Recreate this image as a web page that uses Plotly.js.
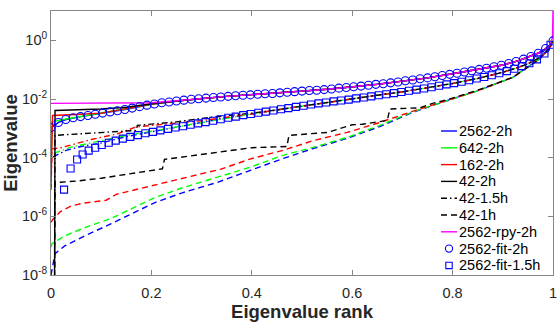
<!DOCTYPE html>
<html>
<head>
<meta charset="utf-8">
<script src="https://cdn.plot.ly/plotly-3.0.1.min.js"></script>
<style>
  html, body { margin: 0; padding: 0; background: #fff; }
  #chart { width: 560px; height: 329px; }
</style>
</head>
<body>
<div id="chart"></div>
<script>
// Eigenvalue spectra, values stored as log10(eigenvalue) against normalised rank.

// ---- 2h spacing (upper band) ----
const rank2562_2h = [0, 0.001, 0.015, 0.03, 0.06, 0.1, 0.15, 0.2, 0.25, 0.3, 0.35, 0.4, 0.45, 0.5, 0.55, 0.6, 0.65, 0.7, 0.75, 0.8, 0.85, 0.9, 0.93, 0.95, 0.97, 0.98, 0.99, 0.995, 1];
const log2562_2h  = [-3.3, -2.97, -2.80, -2.70, -2.60, -2.49, -2.35, -2.18, -2.07, -1.98, -1.91, -1.85, -1.80, -1.73, -1.67, -1.59, -1.50, -1.39, -1.28, -1.14, -1.00, -0.84, -0.70, -0.58, -0.44, -0.36, -0.24, -0.15, 0];

const rank642_2h = [0, 0.002, 0.03, 0.06, 0.1, 0.15, 0.2, 0.25, 0.3, 0.35, 0.4, 0.45, 0.5, 0.55, 0.6, 0.65, 0.7, 0.75, 0.8, 0.85, 0.9, 0.93, 0.95, 0.97, 0.98, 0.99, 0.995, 1];
const log642_2h  = [-4.5, -2.78, -2.68, -2.59, -2.48, -2.34, -2.18, -2.07, -1.98, -1.91, -1.85, -1.80, -1.73, -1.67, -1.59, -1.50, -1.39, -1.28, -1.14, -1.00, -0.84, -0.70, -0.58, -0.44, -0.36, -0.24, -0.15, 0];

const rank162_2h = [0, 0.003, 0.05, 0.1, 0.15, 0.2, 0.25, 0.3, 0.35, 0.4, 0.45, 0.5, 0.55, 0.6, 0.65, 0.7, 0.75, 0.8, 0.85, 0.9, 0.93, 0.95, 0.97, 0.98, 0.99, 0.995, 1];
const log162_2h  = [-5.0, -2.56, -2.53, -2.48, -2.33, -2.17, -2.07, -1.98, -1.91, -1.85, -1.80, -1.73, -1.67, -1.59, -1.50, -1.39, -1.28, -1.14, -1.00, -0.84, -0.70, -0.58, -0.44, -0.36, -0.24, -0.15, 0];

const rank42_2h = [0, 0.007, 0.008, 0.06, 0.1, 0.15, 0.2, 0.25, 0.3, 0.35, 0.4, 0.45, 0.5, 0.55, 0.6, 0.65, 0.7, 0.75, 0.8, 0.85, 0.9, 0.93, 0.95, 0.97, 0.98, 0.99, 0.995, 1];
const log42_2h  = [-9, -9, -2.39, -2.37, -2.34, -2.28, -2.16, -2.07, -1.98, -1.91, -1.85, -1.80, -1.73, -1.67, -1.59, -1.50, -1.39, -1.28, -1.14, -1.00, -0.84, -0.70, -0.58, -0.44, -0.36, -0.24, -0.15, 0];

const rankRpy_2h = [0, 0.1, 0.2, 0.25, 0.3, 0.35, 0.4, 0.45, 0.5, 0.55, 0.6, 0.65, 0.7, 0.75, 0.8, 0.85, 0.9, 0.93, 0.95, 0.97, 0.98, 0.99, 0.995, 0.999, 1];
const logRpy_2h  = [-2.15, -2.14, -2.13, -2.06, -1.98, -1.91, -1.85, -1.80, -1.73, -1.67, -1.59, -1.50, -1.39, -1.28, -1.14, -1.00, -0.84, -0.70, -0.58, -0.44, -0.36, -0.24, -0.12, 0.1, 1.0];

// ---- 1.5h spacing (middle band) ----
const rank2562_15h = [0, 0.001, 0.03, 0.06, 0.1, 0.15, 0.2, 0.25, 0.3, 0.35, 0.4, 0.45, 0.5, 0.55, 0.6, 0.65, 0.7, 0.75, 0.8, 0.85, 0.9, 0.93, 0.95, 0.97, 0.98, 0.99, 0.995, 1];
const log2562_15h  = [-4.4, -4.0, -3.75, -3.62, -3.50, -3.28, -3.12, -2.96, -2.80, -2.64, -2.51, -2.37, -2.24, -2.12, -2.00, -1.87, -1.76, -1.62, -1.47, -1.30, -1.09, -0.93, -0.80, -0.62, -0.50, -0.33, -0.20, 0];

const rank642_15h = [0, 0.001, 0.04, 0.1, 0.15, 0.2, 0.25, 0.3, 0.35, 0.4, 0.45, 0.5, 0.55, 0.6, 0.65, 0.7, 0.75, 0.8, 0.85, 0.9, 0.93, 0.95, 0.97, 0.98, 0.99, 0.995, 1];
const log642_15h  = [-4.7, -3.88, -3.64, -3.42, -3.24, -3.10, -2.95, -2.80, -2.64, -2.51, -2.37, -2.24, -2.12, -2.00, -1.87, -1.76, -1.62, -1.47, -1.30, -1.09, -0.93, -0.80, -0.62, -0.50, -0.33, -0.20, 0];

const rank162_15h = [0, 0.002, 0.02, 0.08, 0.13, 0.17, 0.25, 0.3, 0.35, 0.4, 0.45, 0.5, 0.55, 0.6, 0.65, 0.7, 0.75, 0.8, 0.85, 0.9, 0.93, 0.95, 0.97, 0.98, 0.99, 0.995, 1];
const log162_15h  = [-5.1, -3.70, -3.66, -3.38, -3.20, -2.95, -2.82, -2.74, -2.62, -2.51, -2.37, -2.24, -2.12, -2.00, -1.87, -1.76, -1.62, -1.47, -1.30, -1.09, -0.93, -0.80, -0.62, -0.50, -0.33, -0.20, 0];

const rank42_15h = [0, 0.007, 0.008, 0.09, 0.17, 0.172, 0.25, 0.3, 0.35, 0.4, 0.45, 0.5, 0.55, 0.6, 0.65, 0.7, 0.75, 0.8, 0.85, 0.9, 0.93, 0.95, 0.97, 0.98, 0.99, 0.995, 1];
const log42_15h  = [-9, -9, -3.24, -3.16, -3.07, -2.90, -2.78, -2.66, -2.58, -2.48, -2.37, -2.24, -2.12, -2.00, -1.87, -1.76, -1.62, -1.47, -1.30, -1.09, -0.93, -0.80, -0.62, -0.50, -0.33, -0.20, 0];

// ---- 1h spacing (lower band) ----
const rank2562_1h = [0, 0.008, 0.028, 0.068, 0.12, 0.173, 0.207, 0.263, 0.33, 0.396, 0.462, 0.522, 0.59, 0.655, 0.72, 0.79, 0.85, 0.92, 0.96, 0.975, 0.99, 1];
const log2562_1h  = [-8.0, -7.27, -7.00, -6.66, -6.25, -5.80, -5.53, -5.19, -4.85, -4.44, -4.03, -3.69, -3.34, -2.94, -2.46, -2.05, -1.72, -1.26, -0.80, -0.61, -0.30, 0];

const rank642_1h = [0, 0.002, 0.028, 0.068, 0.12, 0.173, 0.207, 0.263, 0.33, 0.396, 0.462, 0.522, 0.59, 0.655, 0.72, 0.79, 0.85, 0.92, 0.96, 0.975, 0.99, 1];
const log642_1h  = [-7.05, -6.93, -6.66, -6.38, -6.07, -5.63, -5.36, -5.02, -4.68, -4.33, -3.92, -3.65, -3.31, -2.90, -2.44, -2.05, -1.72, -1.26, -0.80, -0.61, -0.30, 0];

const rank162_1h = [0, 0.004, 0.018, 0.04, 0.064, 0.11, 0.13, 0.177, 0.243, 0.297, 0.337, 0.396, 0.462, 0.522, 0.59, 0.655, 0.72, 0.79, 0.85, 0.92, 0.96, 0.975, 0.99, 1];
const log162_1h  = [-6.2, -6.10, -5.85, -5.65, -5.55, -5.45, -5.25, -5.05, -4.78, -4.56, -4.40, -4.05, -3.75, -3.42, -3.14, -2.80, -2.42, -2.05, -1.72, -1.26, -0.80, -0.61, -0.30, 0];

const rank42_1h = [0, 0.007, 0.008, 0.05, 0.1, 0.2, 0.222, 0.226, 0.3, 0.33, 0.4, 0.47, 0.474, 0.55, 0.575, 0.6, 0.62, 0.67, 0.675, 0.735, 0.76, 0.79, 0.85, 0.92, 0.96, 0.975, 0.99, 1];
const log42_1h  = [-9, -9, -4.85, -4.80, -4.70, -4.45, -4.38, -4.06, -3.90, -3.82, -3.66, -3.62, -3.24, -3.14, -3.00, -2.88, -2.86, -2.73, -2.34, -2.30, -2.15, -2.02, -1.70, -1.26, -0.80, -0.61, -0.30, 0];

// ---- fitted spectra (markers) ----
const rankFit2h = [0, .0147, .0294, .0441, .0588, .0735, .0882, .1029, .1176, .1324, .1471, .1618, .1765, .1912, .2059, .2206, .2353, .25, .2647, .2794, .2941, .3088, .3235, .3382, .3529, .3676, .3824, .3971, .4118, .4265, .4412, .4559, .4706, .4853, .5, .5147, .5294, .5441, .5588, .5735, .5882, .6029, .6176, .6324, .6471, .6618, .6765, .6912, .7059, .7206, .7353, .75, .7647, .7794, .7941, .8088, .8235, .8382, .8529, .8676, .8824, .8971, .9118, .9265, .9412, .9559, .9706, .9853, 1.0];
const logFit2h  = [-2.97, -2.80, -2.70, -2.64, -2.60, -2.56, -2.52, -2.48, -2.44, -2.40, -2.36, -2.31, -2.26, -2.21, -2.17, -2.13, -2.10, -2.07, -2.04, -2.01, -1.99, -1.97, -1.95, -1.93, -1.91, -1.89, -1.87, -1.86, -1.84, -1.82, -1.81, -1.79, -1.77, -1.75, -1.73, -1.71, -1.70, -1.68, -1.66, -1.63, -1.61, -1.58, -1.56, -1.53, -1.50, -1.48, -1.45, -1.42, -1.38, -1.35, -1.31, -1.28, -1.24, -1.20, -1.16, -1.12, -1.08, -1.04, -0.99, -0.95, -0.90, -0.85, -0.79, -0.72, -0.64, -0.55, -0.44, -0.28, -0.02];

const rankFit15h = [0.026, 0.039, 0.052, 0.063, 0.075, 0.088, 0.101, 0.115, 0.129, 0.143, 0.158, 0.173, 0.188, 0.203, 0.218, 0.233, 0.248, 0.263, 0.278, 0.293, 0.308, 0.323, 0.338, 0.353, 0.368, 0.383, 0.398, 0.413, 0.428, 0.443, 0.458, 0.473, 0.488, 0.503, 0.518, 0.533, 0.548, 0.563, 0.578, 0.593, 0.608, 0.623, 0.638, 0.653, 0.668, 0.683, 0.698, 0.713, 0.728, 0.743, 0.758, 0.773, 0.788, 0.803, 0.818, 0.833, 0.848, 0.863, 0.878, 0.893, 0.908, 0.923, 0.938, 0.953, 0.968, 0.983, 0.995];
const logFit15h  = [-5.09, -4.37, -4.06, -3.89, -3.76, -3.66, -3.57, -3.49, -3.42, -3.35, -3.29, -3.23, -3.17, -3.12, -3.07, -3.02, -2.97, -2.93, -2.88, -2.83, -2.79, -2.74, -2.69, -2.64, -2.60, -2.55, -2.51, -2.47, -2.43, -2.39, -2.35, -2.31, -2.27, -2.23, -2.19, -2.15, -2.12, -2.08, -2.05, -2.02, -1.98, -1.95, -1.91, -1.87, -1.84, -1.80, -1.76, -1.72, -1.68, -1.64, -1.60, -1.55, -1.50, -1.46, -1.41, -1.36, -1.30, -1.25, -1.19, -1.12, -1.05, -0.97, -0.88, -0.78, -0.65, -0.45, -0.15];

// Axis tick labels
const yTickExp = [-8, -6, -4, -2, 0];
const xTickVals = [0, 0.2, 0.4, 0.6, 0.8, 1];
const xTickText = ['0', '0.2', '0.4', '0.6', '0.8', '1'];

// Legend entries, top to bottom
const legendNames = ['2562-2h', '642-2h', '162-2h', '42-2h', '42-1.5h', '42-1h', '2562-rpy-2h', '2562-fit-2h', '2562-fit-1.5h'];

const BLUE = '#0000ff', GREEN = '#00ff00', RED = '#ff0000', BLACK = '#000000', MAGENTA = '#ff00ff';
const DASH = '6px,4px';
const DASHDOT = '6px,3px,1.5px,3px';
const LINE_W = 1.4;
const toVal = arr => arr.map(p => Math.pow(10, p));

function line(name, xs, logs, color, dash) {
  return {
    type: 'scatter', mode: 'lines', name: name,
    x: xs, y: toVal(logs),
    line: { color: color, width: LINE_W, dash: dash },
    showlegend: false
  };
}

const traces = [
  line('2562-1h', rank2562_1h, log2562_1h, BLUE, DASH),
  line('642-1h', rank642_1h, log642_1h, GREEN, DASH),
  line('162-1h', rank162_1h, log162_1h, RED, DASH),
  line('42-1h', rank42_1h, log42_1h, BLACK, DASH),
  line('2562-1.5h', rank2562_15h, log2562_15h, BLUE, DASHDOT),
  line('642-1.5h', rank642_15h, log642_15h, GREEN, DASHDOT),
  line('162-1.5h', rank162_15h, log162_15h, RED, DASHDOT),
  line('42-1.5h', rank42_15h, log42_15h, BLACK, DASHDOT),
  line('2562-2h', rank2562_2h, log2562_2h, BLUE, 'solid'),
  line('642-2h', rank642_2h, log642_2h, GREEN, 'solid'),
  line('162-2h', rank162_2h, log162_2h, RED, 'solid'),
  line('42-2h', rank42_2h, log42_2h, BLACK, 'solid'),
  line('2562-rpy-2h', rankRpy_2h, logRpy_2h, MAGENTA, 'solid'),
  {
    type: 'scatter', mode: 'markers', name: '2562-fit-2h',
    x: rankFit2h, y: toVal(logFit2h),
    marker: { symbol: 'circle-open', size: 8, color: BLUE, line: { width: 1.1, color: BLUE } },
    showlegend: false
  },
  {
    type: 'scatter', mode: 'markers', name: '2562-fit-1.5h',
    x: rankFit15h, y: toVal(logFit15h),
    marker: { symbol: 'square-open', size: 7, color: BLUE, line: { width: 1.1, color: BLUE } },
    showlegend: false
  }
];

// Compact legend in the lower-right corner of the axes, built from the traces above.
const W = 560, H = 329;
const M = { l: 51, r: 7, t: 11, b: 54 };
const plotW = W - M.l - M.r, plotH = H - M.t - M.b;
const px2x = px => (px - M.l) / plotW;
const py2y = py => (H - M.b - py) / plotH;

const shapes = [];
const annotations = [];
legendNames.forEach((name, i) => {
  const tr = traces.find(t => t.name === name);
  const yc = py2y(131 + i * 16.8);
  annotations.push({
    xref: 'paper', yref: 'paper', x: px2x(457), y: yc,
    xanchor: 'left', yanchor: 'middle', showarrow: false,
    text: name, font: { size: 14.5, color: '#000000' }
  });
  if (tr.mode === 'lines') {
    shapes.push({
      type: 'line', xref: 'paper', yref: 'paper',
      x0: px2x(441), x1: px2x(457), y0: yc, y1: yc,
      line: { color: tr.line.color, width: LINE_W, dash: tr.line.dash }
    });
  } else {
    const r = tr.marker.symbol === 'circle-open' ? 3.6 : 3.2;
    shapes.push({
      type: tr.marker.symbol === 'circle-open' ? 'circle' : 'rect',
      xref: 'paper', yref: 'paper',
      xsizemode: 'pixel', ysizemode: 'pixel',
      xanchor: px2x(449), yanchor: yc,
      x0: -r, x1: r, y0: -r, y1: r,
      line: { color: tr.marker.color, width: 1.1 }
    });
  }
});

const AXIS_COLOR = '#868686';
const layout = {
  width: W, height: H,
  margin: M,
  paper_bgcolor: '#ffffff', plot_bgcolor: '#ffffff',
  font: { family: 'Liberation Sans, Arial, sans-serif', size: 14.5, color: '#262626' },
  showlegend: false,
  shapes: shapes,
  annotations: annotations,
  xaxis: {
    range: [0, 1], tickvals: xTickVals, ticktext: xTickText,
    showgrid: false, zeroline: false,
    showline: true, linecolor: AXIS_COLOR, linewidth: 1, mirror: 'ticks',
    ticks: 'inside', ticklen: 5, tickcolor: AXIS_COLOR,
    ticklabelstandoff: 5,
    title: { text: '<b>Eigenvalue rank</b>', font: { size: 18.5, color: '#262626' }, standoff: 3 }
  },
  yaxis: {
    type: 'log', range: [-8, 1],
    tickvals: toVal(yTickExp),
    ticktext: yTickExp.map(e => '10<sup>' + e + '</sup>'),
    showgrid: false, zeroline: false,
    showline: true, linecolor: AXIS_COLOR, linewidth: 1, mirror: 'ticks',
    ticks: 'inside', ticklen: 5, tickcolor: AXIS_COLOR,
    title: { text: '<b>Eigenvalue</b>', font: { size: 18.5, color: '#262626' }, standoff: 4 }
  }
};

Plotly.newPlot('chart', traces, layout, { staticPlot: true, displayModeBar: false });
</script>
</body>
</html>
